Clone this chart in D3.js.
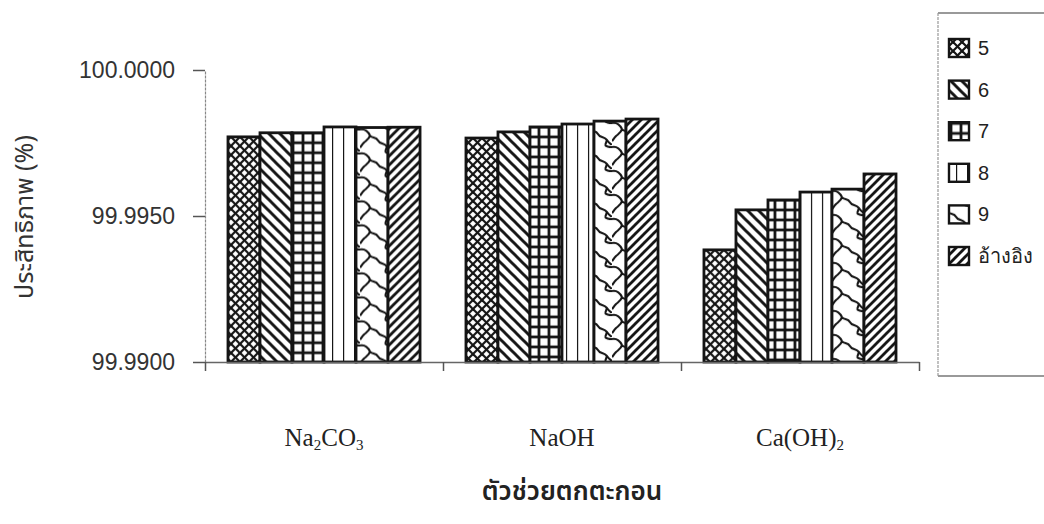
<!DOCTYPE html>
<html>
<head>
<meta charset="utf-8">
<script src="https://cdn.jsdelivr.net/npm/d3@7"></script>
<style>
  html, body { margin: 0; padding: 0; background: #fff; }
  svg { display: block; }
</style>
</head>
<body>
<svg id="chart" width="1044" height="524"></svg>
<script>
// Precipitating agents and pH series
const categories = ["Na2CO3", "NaOH", "Ca(OH)2"];
const seriesNames = ["5", "6", "7", "8", "9", "อ้างอิง"];
// Removal efficiency (%) per agent, one entry per series
const valuesNa2CO3 = [99.99771, 99.99785, 99.99785, 99.99805, 99.99803, 99.99804];
const valuesNaOH   = [99.99767, 99.99788, 99.99805, 99.99815, 99.99825, 99.99832];
const valuesCaOH2  = [99.99384, 99.99521, 99.99555, 99.99582, 99.99592, 99.99644];
const yTicks = [99.99, 99.995, 100.0];
const yTitle = "ประสิทธิภาพ (%)";
const xTitle = "ตัวช่วยตกตะกอน";

const values = [valuesNa2CO3, valuesNaOH, valuesCaOH2];
const rows = categories.map((c, i) => ({ cat: c, vals: values[i] }));

const svg = d3.select("#chart");
const defs = svg.append("defs");
const INK = "#141414";

const x0 = d3.scaleBand().domain(categories).range([205, 919])
  .paddingInner(0.193).paddingOuter(0.0966);
const x1 = d3.scaleBand().domain(seriesNames).range([0, x0.bandwidth()]);
const y = d3.scaleLinear().domain([99.99, 100.0]).range([362, 70]);

// Fill pattern builders, anchored at (ox, oy)
function makePattern(id, kind, ox, oy) {
  const p = defs.append("pattern").attr("id", id)
    .attr("patternUnits", "userSpaceOnUse");
  const line = (x1_, y1_, x2_, y2_, w) => p.append("line")
    .attr("x1", x1_).attr("y1", y1_).attr("x2", x2_).attr("y2", y2_)
    .attr("stroke", INK).attr("stroke-width", w).attr("stroke-linecap", "square");
  p.append("rect").attr("width", 100).attr("height", 100).attr("fill", "#fff");
  if (kind === 0) { // diagonal crosshatch
    p.attr("width", 9).attr("height", 9).attr("x", ox).attr("y", oy);
    line(0, 0, 9, 9, 2.2); line(9, 0, 0, 9, 2.2);
    line(-4.5, 4.5, 4.5, 13.5, 2.2); line(4.5, -4.5, 13.5, 4.5, 2.2);
    line(4.5, -4.5, -4.5, 4.5, 2.2); line(13.5, 4.5, 4.5, 13.5, 2.2);
  } else if (kind === 1) { // backslash diagonals
    p.attr("width", 11).attr("height", 11).attr("x", ox).attr("y", oy);
    line(-11, 0, 11, 22, 3); line(0, -11, 22, 11, 3); line(-11, -11, 11, 11, 3);
  } else if (kind === 2) { // square grid
    p.attr("width", 10).attr("height", 10).attr("x", ox + 3).attr("y", oy);
    line(0, 0, 10, 0, 2.8); line(0, 10, 10, 10, 2.8);
    line(0, 0, 0, 10, 2.8); line(10, 0, 10, 10, 2.8);
  } else if (kind === 3) { // vertical lines
    p.attr("width", 11).attr("height", 20).attr("x", ox).attr("y", oy);
    line(0, -2, 0, 22, 2.4);
  } else if (kind === 4) { // wavy cobblestone
    p.attr("width", 32).attr("height", 24).attr("x", ox).attr("y", oy);
    p.append("path")
      .attr("d", "M0,2 C5,1 8,4 10,8 C12,11 16,9 18,13 C20,17 24,15 27,19 C29,22 31,23 32,24" +
                 " M10,8 C9,12 6,13 4,15 C2,17 1,19 0,20" +
                 " M27,19 C26,21 26,23 25,24 M25,0 C26,1 28,2 32,2")
      .attr("fill", "none").attr("stroke", INK).attr("stroke-width", 2.1);
  } else { // forward diagonals
    p.attr("width", 9).attr("height", 9).attr("x", ox).attr("y", oy);
    line(-9, 9, 9, -9, 2.8); line(0, 9, 9, 0, 2.8); line(0, 18, 18, 0, 2.8);
  }
  return `url(#${id})`;
}

// Bars
const groups = svg.append("g").selectAll("g").data(rows).join("g")
  .attr("transform", d => `translate(${x0(d.cat)},0)`);

groups.selectAll("rect")
  .data((d, gi) => d.vals.map((v, si) => ({ v, si, gi, cat: d.cat, name: seriesNames[si] })))
  .join("rect")
  .attr("x", d => x1(d.name))
  .attr("y", d => y(d.v))
  .attr("width", x1.bandwidth())
  .attr("height", d => y(99.99) - y(d.v))
  .attr("fill", d => makePattern(`p${d.gi}_${d.si}`, d.si, x0(d.cat) + x1(d.name), y(d.v)))
  .attr("stroke", INK).attr("stroke-width", 2.8);

// Y axis
const yAxis = svg.append("g").attr("transform", "translate(205,0)")
  .call(d3.axisLeft(y).tickValues(yTicks).tickFormat(d3.format(".4f"))
    .tickSize(12).tickSizeOuter(0).tickPadding(18));
yAxis.select(".domain").attr("stroke", "#888").attr("stroke-width", 1.2)
  .attr("stroke-dasharray", "3,1");
yAxis.selectAll(".tick line").attr("stroke", "#555").attr("stroke-width", 1.5);
yAxis.selectAll(".tick text").attr("font-family", "'Liberation Sans', Arial, sans-serif")
  .attr("font-size", 23).attr("fill", "#333");

// X axis with ticks between categories
const xb = d3.scaleLinear().domain([0, categories.length]).range([205, 919]);
const xAxis = svg.append("g").attr("transform", "translate(0,362)")
  .call(d3.axisBottom(xb).tickValues(d3.range(categories.length + 1))
    .tickFormat("").tickSize(9).tickSizeOuter(0));
xAxis.select(".domain").attr("stroke", "#666").attr("stroke-width", 1.3);
xAxis.selectAll(".tick line").attr("stroke", "#555").attr("stroke-width", 1.5);

// Category labels with chemical subscripts
const catLabels = svg.append("g").selectAll("text").data(categories).join("text")
  .attr("x", d => x0(d) + x0.bandwidth() / 2)
  .attr("y", 446)
  .attr("text-anchor", "middle")
  .attr("font-family", "'Liberation Serif', 'Times New Roman', serif")
  .attr("font-size", 25).attr("fill", "#222");
catLabels.each(function(d) {
  const t = d3.select(this);
  const parts = d.match(/[A-Za-z()]+|\d+/g);
  let down = false;
  parts.forEach(s => {
    const sub = /^\d+$/.test(s);
    const dy = sub ? (down ? 0 : 4) : (down ? -4 : 0);
    down = sub;
    t.append("tspan").text(s)
      .attr("font-size", sub ? 15 : 25)
      .attr("dy", dy);
  });
});

// Axis titles
svg.append("text").attr("x", 572).attr("y", 500).attr("text-anchor", "middle")
  .attr("font-family", "'Noto Sans Thai', 'Noto Sans', sans-serif")
  .attr("font-size", 26).attr("font-weight", 600).attr("fill", "#222").text(xTitle);
svg.append("text").attr("transform", "translate(33,217) rotate(-90)")
  .attr("text-anchor", "middle")
  .attr("font-family", "'Noto Sans Thai', 'Noto Sans', sans-serif")
  .attr("font-size", 25).attr("fill", "#333").text(yTitle);

// Legend
const lg = svg.append("g");
lg.append("line").attr("x1", 938).attr("y1", 13).attr("x2", 1044).attr("y2", 13)
  .attr("stroke", "#777").attr("stroke-width", 1.5);
lg.append("line").attr("x1", 938).attr("y1", 376).attr("x2", 1044).attr("y2", 376)
  .attr("stroke", "#777").attr("stroke-width", 1.5);
lg.append("line").attr("x1", 938).attr("y1", 13).attr("x2", 938).attr("y2", 376)
  .attr("stroke", "#999").attr("stroke-width", 1.2).attr("stroke-dasharray", "3,1");

const items = lg.selectAll("g.item").data(seriesNames).join("g").attr("class", "item")
  .attr("transform", (d, i) => `translate(949,${48 + i * 41.6})`);
items.append("rect")
  .attr("x", 0).attr("y", -9).attr("width", 20).attr("height", 18)
  .attr("fill", (d, i) => makePattern(`lp${i}`, i, i === 3 ? 942 : 949, 48 + i * 41.6 - 9))
  .attr("stroke", INK).attr("stroke-width", 2.4);
items.append("text").attr("x", 29).attr("y", 7)
  .attr("font-family", "'Liberation Sans', Arial, sans-serif")
  .attr("font-size", 20).attr("fill", "#222").text(d => d);
</script>
</body>
</html>
